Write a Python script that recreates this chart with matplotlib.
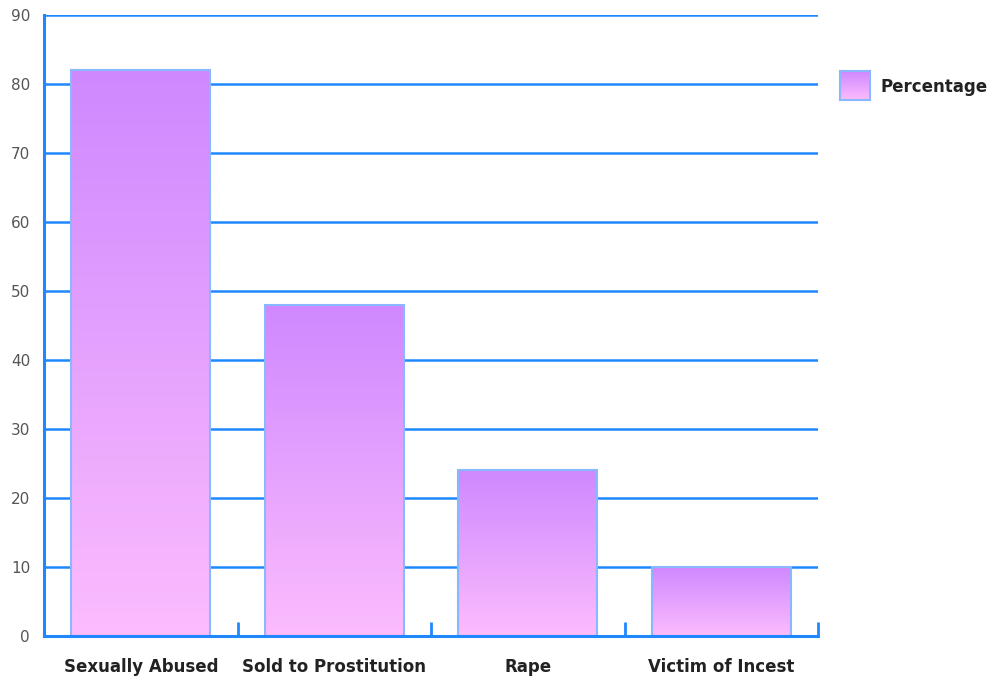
import numpy as np
import matplotlib
matplotlib.use("Agg")
import matplotlib.pyplot as plt
from matplotlib.colors import LinearSegmentedColormap
from matplotlib.patches import Rectangle

categories = ["Sexually Abused", "Sold to Prostitution", "Rape", "Victim of Incest"]
percentages = [82, 48, 24, 10]
series_name = "Percentage"
y_ticks = [0, 10, 20, 30, 40, 50, 60, 70, 80, 90]

grid_blue = "#1f88ff"
edge_blue = "#8ab8ff"
grad = LinearSegmentedColormap.from_list("violet_pink", ["#fcbcfd", "#cf88ff"])
gradient = np.linspace(0, 1, 256).reshape(-1, 1)

fig = plt.figure(figsize=(9.88, 6.76), dpi=100)
ax = fig.add_axes([44 / 988, 1 - 636 / 676, (818 - 44) / 988, (636 - 15) / 676])

n = len(categories)
ax.set_xlim(0, n)
ax.set_ylim(0, 90)

# horizontal grid lines
for t in y_ticks[1:]:
    ax.axhline(t, color=grid_blue, lw=1.8, zorder=1)

bar_w = 0.72
for i, v in enumerate(percentages):
    x0 = i + 0.5 - bar_w / 2
    ax.add_patch(Rectangle((x0, 0), bar_w, v, facecolor="white", edgecolor="none", zorder=2))
    im = ax.imshow(gradient, cmap=grad, aspect="auto", origin="lower",
                   extent=(x0, x0 + bar_w, 0, v), zorder=3)
    rect = Rectangle((x0, 0), bar_w, v, facecolor="none", edgecolor=edge_blue, lw=1.5, zorder=4)
    ax.add_patch(rect)
    im.set_clip_path(rect)

for s in ["top", "right"]:
    ax.spines[s].set_visible(False)
for s in ["left", "bottom"]:
    ax.spines[s].set_color(grid_blue)
    ax.spines[s].set_linewidth(2.2)
    ax.spines[s].set_zorder(5)

# category separator ticks rising from the baseline
for k in range(1, n + 1):
    ax.plot([k, k], [0, 2.0], color=grid_blue, lw=2, zorder=5, clip_on=False,
            solid_capstyle="butt")

ax.set_yticks(y_ticks)
ax.set_yticklabels([str(t) for t in y_ticks], color="#555555", fontsize=11)
ax.tick_params(axis="y", length=0, pad=10)
ax.set_xticks([i + 0.5 for i in range(n)])
ax.set_xticklabels(categories, fontsize=12, fontweight="bold", color="#222222")
ax.tick_params(axis="x", length=0, pad=16)

# legend swatch and label
lax = fig.add_axes([840 / 988, 1 - 100 / 676, 30 / 988, 29 / 676])
lax.imshow(gradient, cmap=grad, aspect="auto", origin="lower", extent=(0, 1, 0, 1))
for s in lax.spines.values():
    s.set_color(edge_blue)
    s.set_linewidth(1.5)
lax.set_xticks([])
lax.set_yticks([])
fig.text(880 / 988, 1 - 87 / 676, series_name, fontsize=12, fontweight="bold",
         color="#222222", va="center", ha="left")

fig.savefig("out.png", dpi=100)
